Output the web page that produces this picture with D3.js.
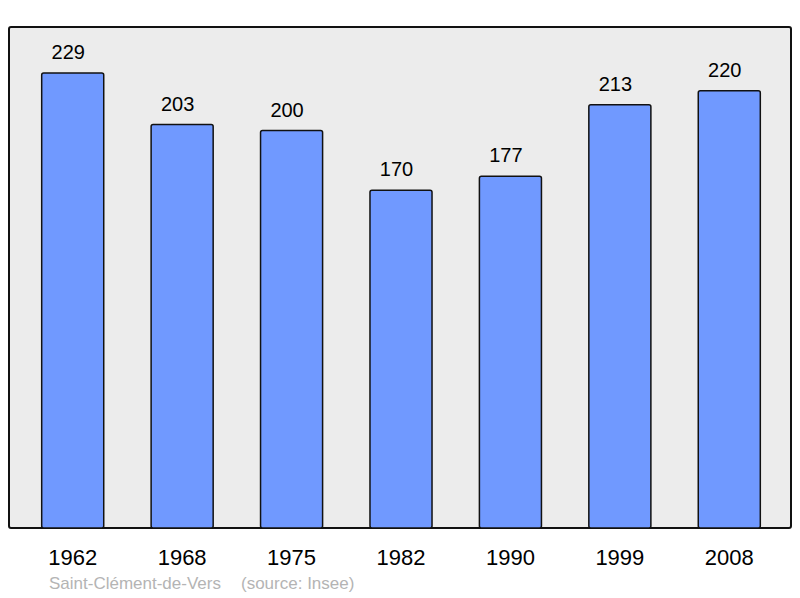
<!DOCTYPE html>
<html>
<head>
<meta charset="utf-8">
<script src="https://cdn.jsdelivr.net/npm/d3@7"></script>
<style>
  body { margin: 0; background: #fff; }
  text { font-family: "Liberation Sans", Arial, sans-serif; }
</style>
</head>
<body>
<svg id="chart" width="800" height="598"></svg>
<script>
const years = ['1962', '1968', '1975', '1982', '1990', '1999', '2008'];
const population = [229, 203, 200, 170, 177, 213, 220];
const commune = 'Saint-Clément-de-Vers';
const source = '(source: Insee)';

const svg = d3.select('#chart');
const frame = {left: 9, top: 27, right: 791, bottom: 528};

svg.append('rect')
  .attr('x', frame.left)
  .attr('y', frame.top)
  .attr('width', frame.right - frame.left)
  .attr('height', frame.bottom - frame.top)
  .attr('rx', 2)
  .style('fill', '#ececec')
  .style('stroke', '#111')
  .style('stroke-width', 2);

const x = d3.scaleBand()
  .domain(years)
  .range([18, 784])
  .paddingInner(0.433)
  .paddingOuter(0.2165);

const y = d3.scaleLinear()
  .domain([0, 252.1])
  .range([frame.bottom, frame.top]);

const data = years.map((yr, i) => ({year: yr, value: population[i]}));

svg.append('g')
  .selectAll('rect')
  .data(data)
  .enter().append('rect')
  .attr('x', d => x(d.year))
  .attr('y', d => y(d.value))
  .attr('width', x.bandwidth())
  .attr('height', d => y(0) - y(d.value))
  .attr('rx', 2)
  .style('fill', '#7099ff')
  .style('stroke', '#111')
  .style('stroke-width', 1.5);

// value labels sit a little left of the bar centre in the original
svg.append('g')
  .selectAll('text')
  .data(data)
  .enter().append('text')
  .attr('x', d => x(d.year) + x.bandwidth() / 2 - 4.5)
  .attr('y', d => y(d.value) - 14)
  .attr('text-anchor', 'middle')
  .style('font-size', '20px')
  .style('fill', '#000')
  .text(d => d.value);

// year labels
svg.append('g')
  .selectAll('text')
  .data(years)
  .enter().append('text')
  .attr('x', d => x(d) + x.bandwidth() / 2)
  .attr('y', 565)
  .attr('text-anchor', 'middle')
  .style('font-size', '22px')
  .style('fill', '#000')
  .text(d => d);

svg.append('text')
  .attr('x', 49)
  .attr('y', 589)
  .style('font-size', '17px')
  .style('fill', '#b4b4b4')
  .text(commune);

svg.append('text')
  .attr('x', 241)
  .attr('y', 589)
  .style('font-size', '17px')
  .style('fill', '#b4b4b4')
  .text(source);
</script>
</body>
</html>
